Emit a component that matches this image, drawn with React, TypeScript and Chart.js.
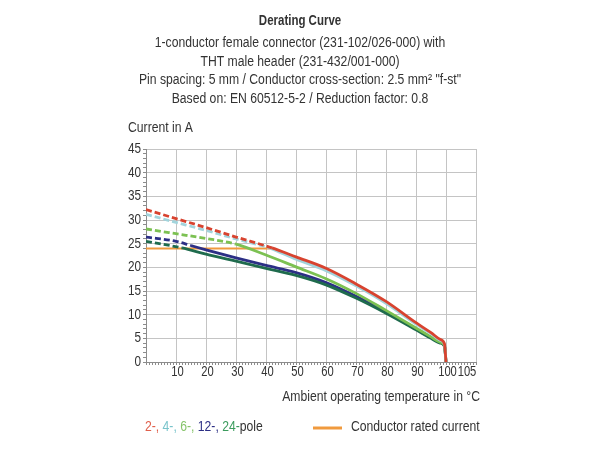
import React, { useEffect, useRef } from 'react';
import { Chart, registerables } from 'chart.js';

Chart.register(...registerables);

const FONT = "'Liberation Sans', Arial, sans-serif";
const NARROW = 0.87; // horizontal squeeze for a narrow sans look
const INK = '#333333';
const GRID = '#c4c4c4';
const AXIS = '#8c8c8c';

// Text
const titleText = 'Derating Curve';
const subtitleLines = [
  '1-conductor female connector (231-102/026-000) with',
  'THT male header (231-432/001-000)',
  'Pin spacing: 5 mm / Conductor cross-section: 2.5 mm² "f-st"',
  'Based on: EN 60512-5-2 / Reduction factor: 0.8',
];
const yAxisTitle = 'Current in A';
const xAxisTitle = 'Ambient operating temperature in °C';
const poleLegend = ['2-', '4-', '6-', '12-', '24-'];
const poleSuffix = 'pole';
const ratedLegend = 'Conductor rated current';

// Axes
const xTickLabels = [10, 20, 30, 40, 50, 60, 70, 80, 90, 100, 105];
const xGridValues = [10, 20, 30, 40, 50, 60, 70, 80, 90, 100, 110];
const yTickLabels = [0, 5, 10, 15, 20, 25, 30, 35, 40, 45];

// Derating curves: ambient temperature (°C) -> current (A)
const temp2Pole = [0, 10, 20, 30, 42, 50, 60, 70, 80, 90, 95, 98, 99.5, 100];
const amp2Pole = [32.2, 30.3, 28.4, 26.4, 24.1, 22.2, 19.8, 16.5, 12.8, 8.3, 6.2, 4.8, 3.8, 0];
const temp4Pole = [0, 10, 20, 30, 41, 50, 60, 70, 80, 90, 95, 98, 99.5, 100];
const amp4Pole = [31.2, 29.5, 27.8, 26.0, 24.1, 21.7, 19.3, 16.1, 12.4, 8.0, 6.0, 4.6, 3.7, 0];
const temp6Pole = [0, 10, 20, 30, 40, 50, 60, 70, 80, 90, 95, 98, 99.5, 100];
const amp6Pole = [28.1, 27.1, 26.1, 24.9, 22.6, 20.1, 17.6, 14.5, 10.9, 7.2, 5.3, 4.2, 3.5, 0];
const temp12Pole = [0, 10, 15, 20, 30, 40, 50, 60, 70, 80, 90, 95, 98, 99.5, 100];
const amp12Pole = [26.4, 25.5, 24.6, 23.7, 22.0, 20.4, 18.9, 16.8, 13.9, 10.6, 7.0, 5.2, 4.1, 3.4, 0];
const temp24Pole = [0, 12, 20, 30, 40, 50, 60, 70, 80, 90, 95, 98, 99.5, 100];
const amp24Pole = [25.5, 24.1, 22.8, 21.3, 19.8, 18.3, 16.3, 13.5, 10.3, 6.8, 5.0, 4.0, 3.3, 0];

// Portion of each curve above the conductor rating is drawn dashed (up to this °C)
const overRatingUntil = [42, 41, 30, 15, 12];

// Conductor rated current
const ratedTemp = [0, 42];
const ratedAmp = [24, 24];

const poleColors = ['#d8432f', '#a2d4dc', '#7cc152', '#2c2f85', '#1f6b4d'];
const legendColors = ['#e0604c', '#79c4cb', '#86c46a', '#2c2f85', '#3b9b5d'];
const poleDrawOrder = [0, 1, 2, 4, 3];
const ratedColor = '#f09a3e';

const poleSeries = [
  { t: temp2Pole, a: amp2Pole },
  { t: temp4Pole, a: amp4Pole },
  { t: temp6Pole, a: amp6Pole },
  { t: temp12Pole, a: amp12Pole },
  { t: temp24Pole, a: amp24Pole },
];

const toPoints = (t: number[], a: number[]) => t.map((x, i) => ({ x, y: a[i] }));

type TextOpts = { size?: number; bold?: boolean; align?: CanvasTextAlign; color?: string; squeeze?: number };

// Draws squeezed text and returns its drawn width
function drawText(ctx: CanvasRenderingContext2D, text: string, x: number, y: number, o: TextOpts = {}) {
  const size = o.size ?? 14;
  const squeeze = o.squeeze ?? NARROW;
  ctx.save();
  ctx.font = `${o.bold ? 'bold ' : ''}${size}px ${FONT}`;
  ctx.fillStyle = o.color ?? INK;
  ctx.textBaseline = 'middle';
  ctx.textAlign = o.align ?? 'left';
  ctx.translate(x, y);
  ctx.scale(squeeze, 1);
  ctx.fillText(text, 0, 0);
  const w = ctx.measureText(text).width * squeeze;
  ctx.restore();
  return w;
}

const labelsPlugin = {
  id: 'deratingLabels',
  afterDraw(chart: any) {
    const { ctx, chartArea: area, scales } = chart;
    const cx = chart.width / 2;

    // heading
    drawText(ctx, titleText, cx, 21, { bold: true, align: 'center', squeeze: 0.82 });
    subtitleLines.forEach((line, i) => drawText(ctx, line, cx, 43.5 + i * 18.5, { align: 'center' }));

    // axis titles
    drawText(ctx, yAxisTitle, area.left - 18, area.top - 21);
    drawText(ctx, xAxisTitle, area.right + 4, area.bottom + 35, { align: 'right' });

    // tick labels (the last one sits a little to the right of its tick)
    xTickLabels.forEach((v, i) => {
      const nudge = i === xTickLabels.length - 1 ? 6 : 1.5;
      drawText(ctx, String(v), scales.x.getPixelForValue(v) + nudge, area.bottom + 10, {
        size: 14,
        align: 'center',
        squeeze: 0.8,
      });
    });
    yTickLabels.forEach((v) =>
      drawText(ctx, String(v), area.left - 5, scales.y.getPixelForValue(v), { size: 14, align: 'right', squeeze: 0.84 }),
    );

    // legend row
    const rowY = area.bottom + 65;
    let x = area.left - 1;
    poleLegend.forEach((name, i) => {
      const last = i === poleLegend.length - 1;
      x += drawText(ctx, last ? name : name + ', ', x, rowY, { color: legendColors[i] });
    });
    drawText(ctx, poleSuffix, x, rowY);

    ctx.save();
    ctx.strokeStyle = ratedColor;
    ctx.lineWidth = 3;
    ctx.beginPath();
    ctx.moveTo(area.left + 167, rowY + 1);
    ctx.lineTo(area.left + 196, rowY + 1);
    ctx.stroke();
    ctx.restore();
    drawText(ctx, ratedLegend, area.left + 205, rowY);
  },
};

export default function App() {
  const canvasRef = useRef<HTMLCanvasElement>(null);

  useEffect(() => {
    const canvas = canvasRef.current;
    if (!canvas) return;

    const datasets: any[] = poleSeries.map((s, i) => ({
      label: poleLegend[i] + poleSuffix,
      data: toPoints(s.t, s.a),
      borderColor: poleColors[i],
      backgroundColor: poleColors[i],
      borderWidth: 2.8,
      pointRadius: 0,
      cubicInterpolationMode: 'monotone',
      order: poleDrawOrder[i],
      segment: {
        borderDash: (ctx: any) => (ctx.p1.parsed.x <= overRatingUntil[i] + 1e-6 ? [6, 3] : undefined),
      },
    }));
    datasets.push({
      label: ratedLegend,
      data: toPoints(ratedTemp, ratedAmp),
      borderColor: ratedColor,
      backgroundColor: ratedColor,
      borderWidth: 2,
      pointRadius: 0,
      order: 10,
    });

    const chart = new Chart(canvas, {
      type: 'line',
      data: { datasets },
      plugins: [labelsPlugin],
      options: {
        animation: false,
        responsive: false,
        devicePixelRatio: 1,
        layout: { padding: { left: 124, right: 124, top: 149, bottom: 38 } },
        plugins: {
          legend: { display: false },
          tooltip: { enabled: false },
          title: { display: false },
        },
        scales: {
          x: {
            type: 'linear',
            min: 0,
            max: 110,
            afterFit: (s: any) => {
              s.height = 50;
            },
            border: { color: AXIS, width: 1 },
            grid: {
              color: (c: any) => (c.tick && xGridValues.includes(c.tick.value) ? GRID : 'rgba(0,0,0,0)'),
              tickColor: AXIS,
              tickLength: 3,
              lineWidth: 1,
            },
            ticks: { display: false, stepSize: 1, autoSkip: false, maxTicksLimit: 200 },
          },
          y: {
            type: 'linear',
            min: 0,
            max: 45,
            afterFit: (s: any) => {
              s.width = 22;
            },
            border: { color: AXIS, width: 1 },
            grid: {
              color: (c: any) =>
                c.tick && c.tick.value > 0 && yTickLabels.includes(c.tick.value) ? GRID : 'rgba(0,0,0,0)',
              tickColor: AXIS,
              tickLength: 3,
              lineWidth: 1,
            },
            ticks: { display: false, stepSize: 1, autoSkip: false, maxTicksLimit: 200 },
          },
        },
      } as any,
    });

    return () => chart.destroy();
  }, []);

  return (
    <div style={{ position: 'absolute', left: 0, top: 0, width: 600, height: 450, background: '#ffffff' }}>
      <canvas ref={canvasRef} width={600} height={450} style={{ display: 'block', width: 600, height: 450 }} />
    </div>
  );
}
